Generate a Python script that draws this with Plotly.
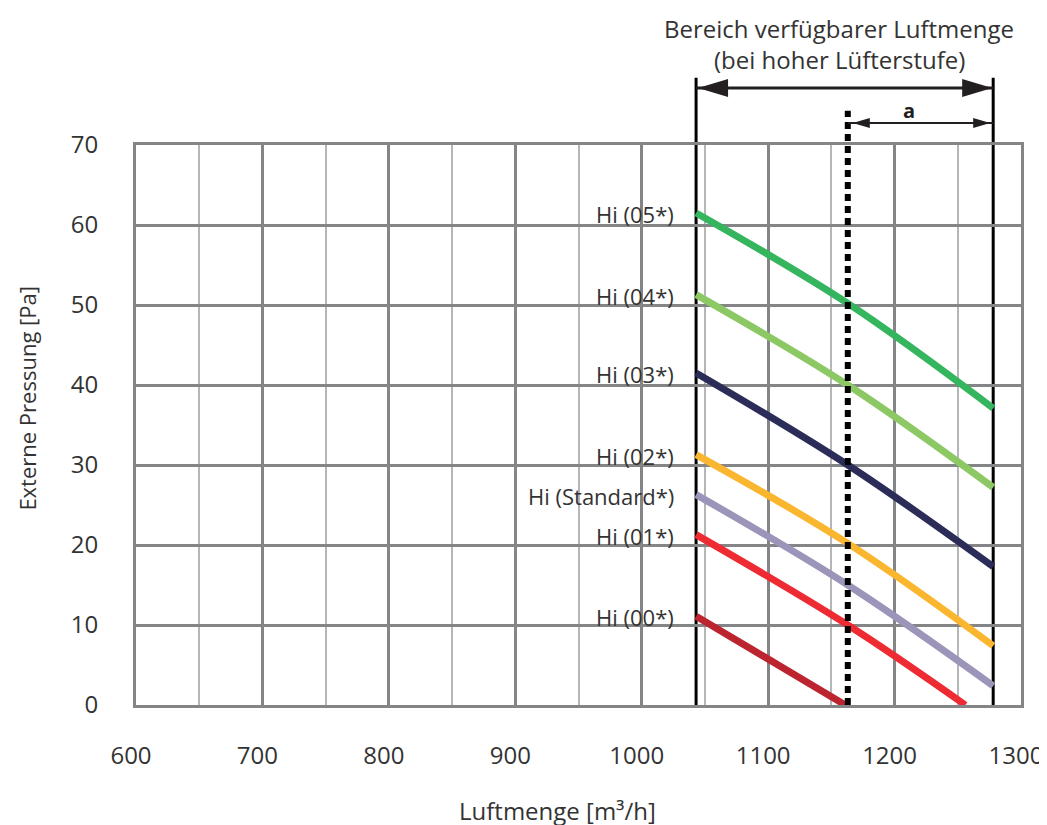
import plotly.graph_objects as go

# ---------------- data ----------------
series_names = ["Hi (05*)", "Hi (04*)", "Hi (03*)", "Hi (02*)", "Hi (Standard*)", "Hi (01*)", "Hi (00*)"]
series_colors = ["#34b55e", "#8cc863", "#2c2c58", "#fbb630", "#9c95b9", "#ee2a33", "#bc2430"]
x_05 = [1043, 1163, 1278]; y_05 = [61.5, 50.2, 37.1]
x_04 = [1043, 1163, 1278]; y_04 = [51.3, 40.0, 27.2]
x_03 = [1043, 1163, 1278]; y_03 = [41.5, 30.0, 17.3]
x_02 = [1043, 1163, 1278]; y_02 = [31.3, 20.2, 7.4]
x_std = [1043, 1163, 1278]; y_std = [26.3, 15.0, 2.4]
x_01 = [1043, 1163, 1256]; y_01 = [21.3, 10.0, 0.0]
x_00 = [1043, 1161]; y_00 = [11.1, 0.0]
series_x = [x_05, x_04, x_03, x_02, x_std, x_01, x_00]
series_y = [y_05, y_04, y_03, y_02, y_std, y_01, y_00]

range_min = 1043      # Bereich verfügbarer Luftmenge: start
range_max = 1278      # end
a_start = 1163        # start of range "a"

x_ticks = [600, 700, 800, 900, 1000, 1100, 1200, 1300]
y_ticks = [0, 10, 20, 30, 40, 50, 60, 70]

header_line1 = "Bereich verfügbarer Luftmenge"
header_line2 = "(bei hoher Lüfterstufe)"
x_title = "Luftmenge [m³/h]"
y_title = "Externe Pressung [Pa]"

# ---------------- styles ----------------
TEXT = "#333333"
GRID_DARK = "#848587"
GRID_LIGHT = "#b5b6b8"
FONT = "Open Sans"

fig = go.Figure()
for name, col, xs, ys in zip(series_names, series_colors, series_x, series_y):
    fig.add_trace(go.Scatter(x=xs, y=ys, mode="lines", name=name,
                             line=dict(color=col, width=7, shape="spline"),
                             showlegend=False, hoverinfo="skip"))
    fig.add_annotation(x=xs[0], y=ys[0], xref="x", yref="y", text=name,
                       showarrow=False, xanchor="right", yanchor="middle",
                       xshift=-20, yshift=-1, font=dict(size=22, color=TEXT, family=FONT))

# vertical range lines
for xv in (range_min, range_max):
    fig.add_shape(type="line", xref="x", yref="paper", x0=xv, x1=xv, y0=0, y1=1.12,
                  line=dict(color="black", width=3), layer="between")
# dotted line
fig.add_shape(type="line", xref="x", yref="paper", x0=a_start, x1=a_start, y0=0, y1=1.061,
              line=dict(color="black", width=6, dash="7px,5px"), layer="above")

# main double arrow
y_main = 1.1018
fig.add_shape(type="line", xref="x", yref="paper", x0=range_min, x1=range_max, y0=y_main, y1=y_main,
              line=dict(color="#231f20", width=3), layer="above")
fig.add_shape(type="path", xref="x", yref="paper", xsizemode="pixel", ysizemode="pixel",
              xanchor=range_max, yanchor=y_main, path="M-1,0 L-31,9 L-31,-9 Z",
              fillcolor="#231f20", line=dict(width=0), layer="above")
fig.add_shape(type="path", xref="x", yref="paper", xsizemode="pixel", ysizemode="pixel",
              xanchor=range_min, yanchor=y_main, path="M2,0 L32,9 L32,-9 Z",
              fillcolor="#231f20", line=dict(width=0), layer="above")

# small "a" arrow
y_a = 1.0393
fig.add_shape(type="line", xref="x", yref="paper", x0=a_start, x1=range_max, y0=y_a, y1=y_a,
              line=dict(color="#231f20", width=2), layer="above")
fig.add_shape(type="path", xref="x", yref="paper", xsizemode="pixel", ysizemode="pixel",
              xanchor=range_max, yanchor=y_a, path="M-3,0 L-20,5 L-20,-5 Z",
              fillcolor="#231f20", line=dict(width=0), layer="above")
fig.add_shape(type="path", xref="x", yref="paper", xsizemode="pixel", ysizemode="pixel",
              xanchor=a_start, yanchor=y_a, path="M5,0 L22,5 L22,-5 Z",
              fillcolor="#231f20", line=dict(width=0), layer="above")
fig.add_annotation(x=(a_start + range_max) / 2, y=1.0625, xref="x", yref="paper", text="<b>a</b>",
                   showarrow=False, xanchor="center", yanchor="middle", xshift=-11,
                   font=dict(size=20, color="#231f20", family=FONT))

# header
fig.add_annotation(x=0.7947, y=1.2080, xref="paper", yref="paper", text=header_line1,
                   showarrow=False, xanchor="center", yanchor="middle",
                   font=dict(size=24, color=TEXT, family=FONT))
fig.add_annotation(x=0.7947, y=1.1526, xref="paper", yref="paper", text=header_line2,
                   showarrow=False, xanchor="center", yanchor="middle",
                   font=dict(size=24, color=TEXT, family=FONT))

# axis titles
fig.add_annotation(x=0.476, y=-0.1875, xref="paper", yref="paper", text=x_title,
                   showarrow=False, xanchor="center", yanchor="middle",
                   font=dict(size=24, color=TEXT, family=FONT))
fig.add_annotation(x=-0.1226, y=0.548, xref="paper", yref="paper", text=y_title,
                   textangle=-90, showarrow=False, xanchor="center", yanchor="middle",
                   font=dict(size=22, color=TEXT, family=FONT))

fig.update_xaxes(range=[600, 1300], tickvals=x_ticks, ticktext=[str(v) for v in x_ticks],
                 showgrid=True, gridcolor=GRID_DARK, gridwidth=3,
                 minor=dict(dtick=50, tick0=600, showgrid=True, gridcolor=GRID_LIGHT, gridwidth=2),
                 showline=True, mirror=True, linecolor=GRID_DARK, linewidth=3,
                 zeroline=False, ticks="", ticklabelstandoff=27, ticklabelshift=-5,
                 tickfont=dict(size=24, color=TEXT, family=FONT))
fig.update_yaxes(range=[0, 70], tickvals=y_ticks, ticktext=[str(v) for v in y_ticks],
                 showgrid=True, gridcolor=GRID_DARK, gridwidth=3,
                 showline=True, mirror=True, linecolor=GRID_DARK, linewidth=3,
                 zeroline=False, ticks="", ticklabelstandoff=30,
                 tickfont=dict(size=24, color=TEXT, family=FONT))

fig.update_layout(width=1047, height=825, autosize=False,
                  margin=dict(l=128, r=30, t=137, b=128),
                  plot_bgcolor="white", paper_bgcolor="white",
                  font=dict(family=FONT, color=TEXT))

fig.write_html("out.html")
